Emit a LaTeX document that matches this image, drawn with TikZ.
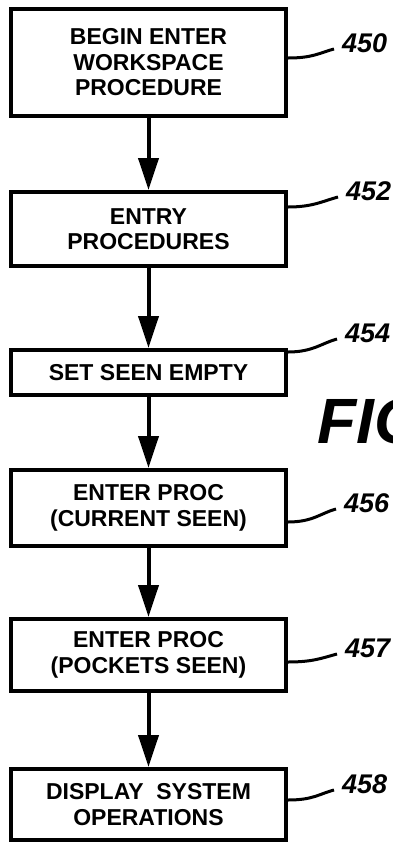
\documentclass[tikz,border=0pt]{standalone}
\usepackage{fontspec}
\setmainfont{Liberation Sans}
\usetikzlibrary{arrows.meta}
\begin{document}
\begin{tikzpicture}[x=1pt,y=-1pt,
	blk/.style={draw,line width=4pt,minimum width=275pt,align=center,inner sep=0pt,
		font=\fontsize{23}{25.5}\selectfont\bfseries},
	refno/.style={anchor=base west,inner sep=0pt,font=\fontsize{27}{27}\selectfont\bfseries\itshape},
	flow/.style={line width=4pt,-{Triangle[length=32pt,width=20pt]}},
	lead/.style={line width=3pt}]
	\useasboundingbox (0,0) rectangle (392,844);
	% Blocchi del diagramma
	\node [blk,minimum height=107pt] (b450) at (148.5,62.5) {BEGIN ENTER\\WORKSPACE\\PROCEDURE};
	\node [blk,minimum height=74pt] (b452) at (148.5,229) {ENTRY\\PROCEDURES};
	\node [blk,minimum height=45pt] (b454) at (148.5,372.5) {SET SEEN EMPTY};
	\node [blk,minimum height=76pt] (b456) at (148.5,508) {ENTER PROC\\(CURRENT SEEN)};
	\node [blk,minimum height=72pt] (b457) at (148.5,655) {ENTER PROC\\(POCKETS SEEN)};
	\node [blk,minimum height=71pt] (b458) at (148.5,804.5) {DISPLAY\ \ SYSTEM\\OPERATIONS};
	
	\draw [flow] (b450) -- (b452);
	\draw [flow] (b452) -- (b454);
	\draw [flow] (b454) -- (b456);
	\draw [flow] (b456) -- (b457);
	\draw [flow] (b457) -- (b458);
	
	% Numeri di riferimento
	\node [refno] (n450) at (342,52) {450};
	\node [refno] (n452) at (346,200) {452};
	\node [refno] (n454) at (345,342) {454};
	\node [refno] (n456) at (344,512) {456};
	\node [refno] (n457) at (345,657) {457};
	\node [refno] (n458) at (342,793) {458};
	
	\draw [lead] ([yshift=4.5pt]b450.east) .. controls +(25,0) and +(-15,4) .. ([xshift=-8pt,yshift=3pt]n450.base west);
	\draw [lead] ([yshift=22pt]b452.east) .. controls +(25,0) and +(-15,4) .. ([xshift=-8pt,yshift=3pt]n452.base west);
	\draw [lead] ([yshift=20.5pt]b454.east) .. controls +(25,0) and +(-15,4) .. ([xshift=-8pt,yshift=3pt]n454.base west);
	\draw [lead] ([yshift=-14pt]b456.east) .. controls +(25,0) and +(-15,4) .. ([xshift=-8pt,yshift=3pt]n456.base west);
	\draw [lead] ([yshift=-7pt]b457.east) .. controls +(25,0) and +(-15,4) .. ([xshift=-8pt,yshift=3pt]n457.base west);
	\draw [lead] ([yshift=4.5pt]b458.east) .. controls +(25,0) and +(-15,4) .. ([xshift=-8pt,yshift=3pt]n458.base west);
	
	\node [anchor=base west,inner sep=0pt,font=\fontsize{64}{64}\selectfont\bfseries\itshape] (fig) at (317,443) {FIG};
\end{tikzpicture}
\end{document}
